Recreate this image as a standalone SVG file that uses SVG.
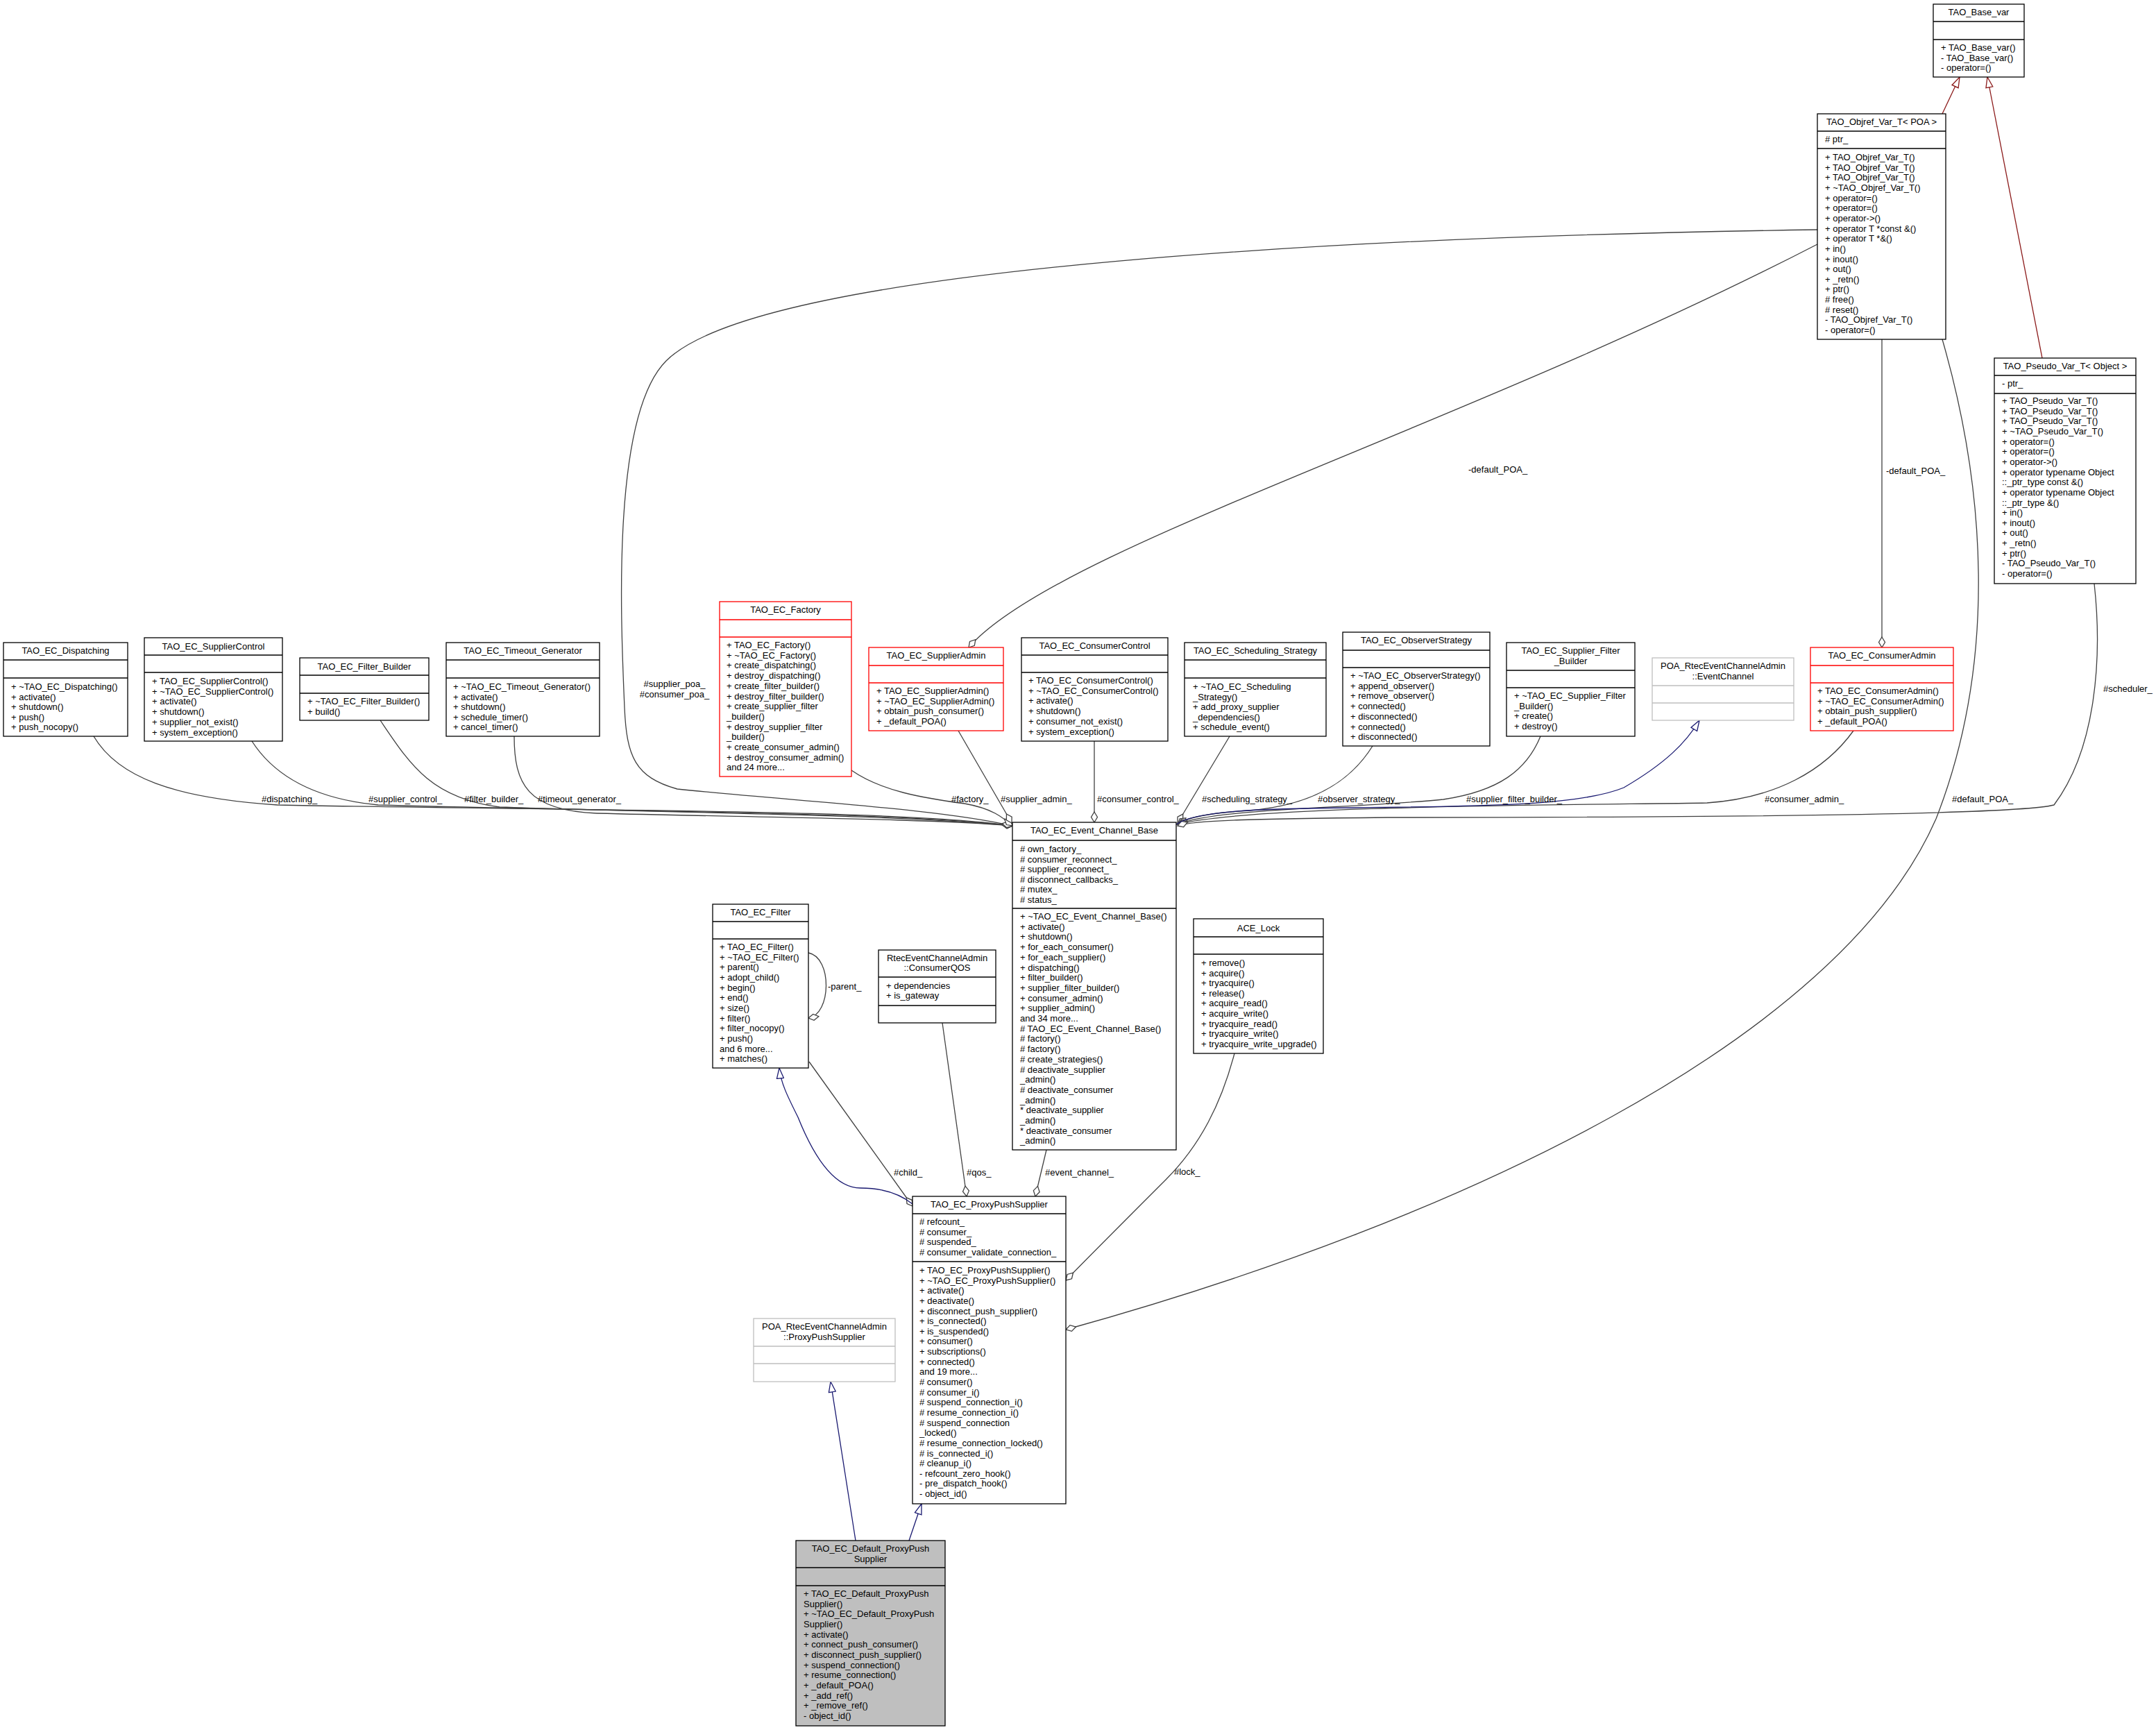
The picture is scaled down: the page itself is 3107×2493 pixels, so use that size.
<svg xmlns="http://www.w3.org/2000/svg" width="3107" height="2493" viewBox="0 0 3107 2493">
<style>
text{font-family:"Liberation Sans",Arial,Helvetica,sans-serif;font-size:13px;fill:#000}
.c{text-anchor:middle}
.b{fill:#fff;stroke:#000;stroke-width:1.3}
.r{fill:#fff;stroke:#f00;stroke-width:1.3}
.g{fill:#fff;stroke:#bfbfbf;stroke-width:1.3}
.d{fill:#bfbfbf;stroke:#000;stroke-width:1.3}
.sb{stroke:#000;stroke-width:1.3}
.sr{stroke:#f00;stroke-width:1.3}
.sg{stroke:#bfbfbf;stroke-width:1.3}
.e{fill:none;stroke:#404040;stroke-width:1.3;marker-end:url(#od)}
.i{fill:none;stroke:#191970;stroke-width:1.3;marker-end:url(#tn)}
.p{fill:none;stroke:#8b1a1a;stroke-width:1.3;marker-end:url(#tr)}
</style>
<defs>
<marker id="od" markerUnits="userSpaceOnUse" viewBox="0 0 18 12" markerWidth="18" markerHeight="12" refX="16" refY="6" orient="auto"><path d="M1,6 L8.5,1.5 L16,6 L8.5,10.5 Z" fill="#fff" stroke="#404040" stroke-width="1.3"/></marker>
<marker id="tn" markerUnits="userSpaceOnUse" viewBox="0 0 18 12" markerWidth="18" markerHeight="12" refX="16" refY="6" orient="auto"><path d="M1,1 L16,6 L1,11 Z" fill="#fff" stroke="#191970" stroke-width="1.3"/></marker>
<marker id="tr" markerUnits="userSpaceOnUse" viewBox="0 0 18 12" markerWidth="18" markerHeight="12" refX="16" refY="6" orient="auto"><path d="M1,1 L16,6 L1,11 Z" fill="#fff" stroke="#8b1a1a" stroke-width="1.3"/></marker>
</defs>
<rect width="3107" height="2493" fill="#fff"/>

<g id="connectors">
<path class="e" d="M135,1061 C170,1120 250,1150 400,1160 C800,1168 1300,1166 1459,1190"/>
<path class="e" d="M363,1068 C390,1110 440,1150 545,1160 C900,1170 1300,1170 1459,1190"/>
<path class="e" d="M548,1038 C590,1100 620,1150 720,1163 C1000,1172 1300,1174 1459,1190"/>
<path class="e" d="M741,1061 C741,1130 760,1168 860,1172 C1100,1178 1350,1180 1459,1190"/>
<path class="e" d="M2619,331 C2000,340 1100,380 960,520 C880,600 895,900 900,1020 C903,1090 915,1120 976,1137 C1150,1155 1350,1165 1459,1190"/>
<path class="e" d="M1227,1110 C1270,1140 1330,1150 1390,1158 C1430,1165 1445,1178 1459,1190"/>
<path class="e" d="M1381,1053 L1458,1186"/>
<path class="e" d="M1577,1068 L1577,1185"/>
<path class="e" d="M1772,1061 L1697,1186"/>
<path class="e" d="M1978,1075 C1950,1120 1900,1160 1800,1168 C1740,1172 1710,1178 1697,1188"/>
<path class="e" d="M2220,1061 C2200,1110 2160,1140 2080,1152 C1950,1165 1750,1165 1697,1188"/>
<path class="e" d="M2671,1053 C2630,1110 2560,1150 2460,1157 C2300,1160 1800,1160 1697,1188"/>
<path class="e" d="M3018,841 C3030,950 3020,1080 2960,1160 C2900,1175 2400,1178 2000,1178 C1800,1180 1720,1182 1697,1190"/>
<path class="e" d="M2619,352 C2100,620 1520,790 1396,933"/>
<path class="e" d="M2712,489 L2712,933"/>
<path class="e" d="M2799,489 C2860,700 2880,950 2790,1180 C2650,1500 2100,1760 1536,1916"/>
<path class="e" d="M1165,1373 C1200,1380 1198,1462 1165,1467"/>
<path class="e" d="M1166,1530 L1315,1738"/>
<path class="e" d="M1358,1474 L1393,1724"/>
<path class="e" d="M1508,1657 L1492,1724"/>
<path class="e" d="M1779,1518 C1760,1590 1730,1650 1680,1700 C1620,1760 1570,1810 1536,1845"/>
<path class="i" d="M1695,1188 C1720,1170 1800,1165 1950,1164 C2150,1162 2280,1160 2340,1135 C2400,1100 2430,1070 2449,1038"/>
<path class="i" d="M1315,1735 C1290,1715 1260,1712 1240,1712 C1200,1712 1170,1660 1150,1610 C1135,1580 1125,1560 1123,1539"/>
<path class="i" d="M1233,2220 L1197,1991"/>
<path class="i" d="M1310,2220 L1328,2167"/>
<path class="p" d="M2943,516 L2864,111"/>
<path class="p" d="M2799,164 L2824,111"/>
<text x="377" y="1156">#dispatching_</text>
<text x="531" y="1156">#supplier_control_</text>
<text x="669" y="1156">#filter_builder_</text>
<text x="775" y="1156">#timeout_generator_</text>
<text class="c" x="972" y="990">#supplier_poa_</text>
<text class="c" x="972" y="1005">#consumer_poa_</text>
<text x="1371" y="1156">#factory_</text>
<text x="1442" y="1156">#supplier_admin_</text>
<text x="1581" y="1156">#consumer_control_</text>
<text x="1732" y="1156">#scheduling_strategy_</text>
<text x="1899" y="1156">#observer_strategy_</text>
<text x="2113" y="1156">#supplier_filter_builder_</text>
<text x="2543" y="1156">#consumer_admin_</text>
<text x="2813" y="1156">#default_POA_</text>
<text x="3031" y="997">#scheduler_</text>
<text x="2116" y="681">-default_POA_</text>
<text x="2718" y="683">-default_POA_</text>
<text x="1193" y="1426">-parent_</text>
<text x="1288" y="1694">#child_</text>
<text x="1393" y="1694">#qos_</text>
<text x="1506" y="1694">#event_channel_</text>
<text x="1692" y="1693">#lock_</text>
</g>

<g id="TAO_Base_var">
<rect class="b" x="2786" y="6" width="131" height="105"/>
<path class="sb" d="M2786,31H2917M2786,57H2917"/>
<text class="c" x="2851.5" y="22">TAO_Base_var</text>
<text><tspan x="2797" y="73">+ TAO_Base_var()</tspan><tspan x="2797" y="87.6">- TAO_Base_var()</tspan><tspan x="2797" y="102.3">- operator=()</tspan></text>
</g>

<g id="TAO_Objref_Var_T">
<rect class="b" x="2619" y="164" width="185" height="325"/>
<path class="sb" d="M2619,189H2804M2619,214H2804"/>
<text class="c" x="2711.5" y="180">TAO_Objref_Var_T&lt; POA &gt;</text>
<text x="2630" y="205"># ptr_</text>
<text><tspan x="2630" y="231">+ TAO_Objref_Var_T()</tspan><tspan x="2630" y="245.65">+ TAO_Objref_Var_T()</tspan><tspan x="2630" y="260.3">+ TAO_Objref_Var_T()</tspan><tspan x="2630" y="274.95">+ ~TAO_Objref_Var_T()</tspan><tspan x="2630" y="289.6">+ operator=()</tspan><tspan x="2630" y="304.25">+ operator=()</tspan><tspan x="2630" y="318.9">+ operator-&gt;()</tspan><tspan x="2630" y="333.55">+ operator T *const &amp;()</tspan><tspan x="2630" y="348.2">+ operator T *&amp;()</tspan><tspan x="2630" y="362.85">+ in()</tspan><tspan x="2630" y="377.5">+ inout()</tspan><tspan x="2630" y="392.15">+ out()</tspan><tspan x="2630" y="406.8">+ _retn()</tspan><tspan x="2630" y="421.45">+ ptr()</tspan><tspan x="2630" y="436.1"># free()</tspan><tspan x="2630" y="450.75"># reset()</tspan><tspan x="2630" y="465.4">- TAO_Objref_Var_T()</tspan><tspan x="2630" y="480.05">- operator=()</tspan></text>
</g>

<g id="TAO_Pseudo_Var_T">
<rect class="b" x="2874" y="516" width="204" height="325"/>
<path class="sb" d="M2874,541H3078M2874,567H3078"/>
<text class="c" x="2976" y="532">TAO_Pseudo_Var_T&lt; Object &gt;</text>
<text x="2885" y="557">- ptr_</text>
<text><tspan x="2885" y="582">+ TAO_Pseudo_Var_T()</tspan><tspan x="2885" y="596.65">+ TAO_Pseudo_Var_T()</tspan><tspan x="2885" y="611.3">+ TAO_Pseudo_Var_T()</tspan><tspan x="2885" y="625.95">+ ~TAO_Pseudo_Var_T()</tspan><tspan x="2885" y="640.6">+ operator=()</tspan><tspan x="2885" y="655.25">+ operator=()</tspan><tspan x="2885" y="669.9">+ operator-&gt;()</tspan><tspan x="2885" y="684.55">+ operator typename Object</tspan><tspan x="2885" y="699.2">::_ptr_type const &amp;()</tspan><tspan x="2885" y="713.85">+ operator typename Object</tspan><tspan x="2885" y="728.5">::_ptr_type &amp;()</tspan><tspan x="2885" y="743.15">+ in()</tspan><tspan x="2885" y="757.8">+ inout()</tspan><tspan x="2885" y="772.45">+ out()</tspan><tspan x="2885" y="787.1">+ _retn()</tspan><tspan x="2885" y="801.75">+ ptr()</tspan><tspan x="2885" y="816.4">- TAO_Pseudo_Var_T()</tspan><tspan x="2885" y="831.05">- operator=()</tspan></text>
</g>

<g id="TAO_EC_ConsumerAdmin">
<rect class="r" x="2609" y="933" width="206" height="120"/>
<path class="sr" d="M2609,959H2815M2609,984H2815"/>
<text class="c" x="2712" y="949">TAO_EC_ConsumerAdmin</text>
<text><tspan x="2619" y="1000">+ TAO_EC_ConsumerAdmin()</tspan><tspan x="2619" y="1014.65">+ ~TAO_EC_ConsumerAdmin()</tspan><tspan x="2619" y="1029.3">+ obtain_push_supplier()</tspan><tspan x="2619" y="1043.95">+ _default_POA()</tspan></text>
</g>

<g id="TAO_EC_Dispatching">
<rect class="b" x="5" y="926" width="179" height="135"/>
<path class="sb" d="M5,951H184M5,977H184"/>
<text class="c" x="94.5" y="942">TAO_EC_Dispatching</text>
<text><tspan x="16" y="994">+ ~TAO_EC_Dispatching()</tspan><tspan x="16" y="1008.5">+ activate()</tspan><tspan x="16" y="1023">+ shutdown()</tspan><tspan x="16" y="1037.5">+ push()</tspan><tspan x="16" y="1052">+ push_nocopy()</tspan></text>
</g>

<g id="TAO_EC_SupplierControl">
<rect class="b" x="208" y="919" width="199" height="149"/>
<path class="sb" d="M208,944H407M208,969H407"/>
<text class="c" x="307.5" y="936">TAO_EC_SupplierControl</text>
<text><tspan x="219" y="986">+ TAO_EC_SupplierControl()</tspan><tspan x="219" y="1000.7">+ ~TAO_EC_SupplierControl()</tspan><tspan x="219" y="1015.4">+ activate()</tspan><tspan x="219" y="1030.1">+ shutdown()</tspan><tspan x="219" y="1044.8">+ supplier_not_exist()</tspan><tspan x="219" y="1059.5">+ system_exception()</tspan></text>
</g>

<g id="TAO_EC_Filter_Builder">
<rect class="b" x="432" y="948" width="186" height="90"/>
<path class="sb" d="M432,973H618M432,999H618"/>
<text class="c" x="525" y="965">TAO_EC_Filter_Builder</text>
<text><tspan x="443" y="1015">+ ~TAO_EC_Filter_Builder()</tspan><tspan x="443" y="1030">+ build()</tspan></text>
</g>

<g id="TAO_EC_Timeout_Generator">
<rect class="b" x="643" y="926" width="221" height="135"/>
<path class="sb" d="M643,951H864M643,977H864"/>
<text class="c" x="753.5" y="942">TAO_EC_Timeout_Generator</text>
<text><tspan x="653" y="994">+ ~TAO_EC_Timeout_Generator()</tspan><tspan x="653" y="1008.5">+ activate()</tspan><tspan x="653" y="1023">+ shutdown()</tspan><tspan x="653" y="1037.5">+ schedule_timer()</tspan><tspan x="653" y="1052">+ cancel_timer()</tspan></text>
</g>

<g id="TAO_EC_Factory">
<rect class="r" x="1037" y="867" width="190" height="252"/>
<path class="sr" d="M1037,893H1227M1037,918H1227"/>
<text class="c" x="1132" y="883">TAO_EC_Factory</text>
<text><tspan x="1047" y="934">+ TAO_EC_Factory()</tspan><tspan x="1047" y="948.7">+ ~TAO_EC_Factory()</tspan><tspan x="1047" y="963.4">+ create_dispatching()</tspan><tspan x="1047" y="978.1">+ destroy_dispatching()</tspan><tspan x="1047" y="992.8">+ create_filter_builder()</tspan><tspan x="1047" y="1007.5">+ destroy_filter_builder()</tspan><tspan x="1047" y="1022.2">+ create_supplier_filter</tspan><tspan x="1047" y="1036.9">_builder()</tspan><tspan x="1047" y="1051.6">+ destroy_supplier_filter</tspan><tspan x="1047" y="1066.3">_builder()</tspan><tspan x="1047" y="1081">+ create_consumer_admin()</tspan><tspan x="1047" y="1095.7">+ destroy_consumer_admin()</tspan><tspan x="1047" y="1110.4">and 24 more...</tspan></text>
</g>

<g id="TAO_EC_SupplierAdmin">
<rect class="r" x="1252" y="933" width="194" height="120"/>
<path class="sr" d="M1252,959H1446M1252,984H1446"/>
<text class="c" x="1349" y="949">TAO_EC_SupplierAdmin</text>
<text><tspan x="1263" y="1000">+ TAO_EC_SupplierAdmin()</tspan><tspan x="1263" y="1014.65">+ ~TAO_EC_SupplierAdmin()</tspan><tspan x="1263" y="1029.3">+ obtain_push_consumer()</tspan><tspan x="1263" y="1043.95">+ _default_POA()</tspan></text>
</g>

<g id="TAO_EC_ConsumerControl">
<rect class="b" x="1472" y="919" width="211" height="149"/>
<path class="sb" d="M1472,944H1683M1472,969H1683"/>
<text class="c" x="1577.5" y="935">TAO_EC_ConsumerControl</text>
<text><tspan x="1482" y="985">+ TAO_EC_ConsumerControl()</tspan><tspan x="1482" y="999.7">+ ~TAO_EC_ConsumerControl()</tspan><tspan x="1482" y="1014.4">+ activate()</tspan><tspan x="1482" y="1029.1">+ shutdown()</tspan><tspan x="1482" y="1043.8">+ consumer_not_exist()</tspan><tspan x="1482" y="1058.5">+ system_exception()</tspan></text>
</g>

<g id="TAO_EC_Scheduling_Strategy">
<rect class="b" x="1707" y="926" width="204" height="135"/>
<path class="sb" d="M1707,951H1911M1707,977H1911"/>
<text class="c" x="1809" y="942">TAO_EC_Scheduling_Strategy</text>
<text><tspan x="1719" y="994">+ ~TAO_EC_Scheduling</tspan><tspan x="1719" y="1008.5">_Strategy()</tspan><tspan x="1719" y="1023">+ add_proxy_supplier</tspan><tspan x="1719" y="1037.5">_dependencies()</tspan><tspan x="1719" y="1052">+ schedule_event()</tspan></text>
</g>

<g id="TAO_EC_ObserverStrategy">
<rect class="b" x="1935" y="911" width="212" height="164"/>
<path class="sb" d="M1935,937H2147M1935,962H2147"/>
<text class="c" x="2041" y="927">TAO_EC_ObserverStrategy</text>
<text><tspan x="1946" y="978">+ ~TAO_EC_ObserverStrategy()</tspan><tspan x="1946" y="992.7">+ append_observer()</tspan><tspan x="1946" y="1007.4">+ remove_observer()</tspan><tspan x="1946" y="1022.1">+ connected()</tspan><tspan x="1946" y="1036.8">+ disconnected()</tspan><tspan x="1946" y="1051.5">+ connected()</tspan><tspan x="1946" y="1066.2">+ disconnected()</tspan></text>
</g>

<g id="TAO_EC_Supplier_Filter_Builder">
<rect class="b" x="2171" y="926" width="185" height="135"/>
<path class="sb" d="M2171,966H2356M2171,991H2356"/>
<text class="c"><tspan x="2263.5" y="942">TAO_EC_Supplier_Filter</tspan><tspan x="2263.5" y="957">_Builder</tspan></text>
<text><tspan x="2182" y="1007">+ ~TAO_EC_Supplier_Filter</tspan><tspan x="2182" y="1021.7">_Builder()</tspan><tspan x="2182" y="1036.4">+ create()</tspan><tspan x="2182" y="1051.1">+ destroy()</tspan></text>
</g>

<g id="POA_RtecEventChannelAdmin_EventChannel">
<rect class="g" x="2381" y="948" width="204" height="90"/>
<path class="sg" d="M2381,988H2585M2381,1013H2585"/>
<text class="c"><tspan x="2483" y="964">POA_RtecEventChannelAdmin</tspan><tspan x="2483" y="979">::EventChannel</tspan></text>
</g>

<g id="TAO_EC_Event_Channel_Base">
<rect class="b" x="1459" y="1185" width="236" height="472"/>
<path class="sb" d="M1459,1211H1695M1459,1309H1695"/>
<text class="c" x="1577" y="1201">TAO_EC_Event_Channel_Base</text>
<text><tspan x="1470" y="1228"># own_factory_</tspan><tspan x="1470" y="1242.6"># consumer_reconnect_</tspan><tspan x="1470" y="1257.2"># supplier_reconnect_</tspan><tspan x="1470" y="1271.8"># disconnect_callbacks_</tspan><tspan x="1470" y="1286.4"># mutex_</tspan><tspan x="1470" y="1301"># status_</tspan></text>
<text><tspan x="1470" y="1325">+ ~TAO_EC_Event_Channel_Base()</tspan><tspan x="1470" y="1339.7">+ activate()</tspan><tspan x="1470" y="1354.4">+ shutdown()</tspan><tspan x="1470" y="1369.1">+ for_each_consumer()</tspan><tspan x="1470" y="1383.8">+ for_each_supplier()</tspan><tspan x="1470" y="1398.5">+ dispatching()</tspan><tspan x="1470" y="1413.2">+ filter_builder()</tspan><tspan x="1470" y="1427.9">+ supplier_filter_builder()</tspan><tspan x="1470" y="1442.6">+ consumer_admin()</tspan><tspan x="1470" y="1457.3">+ supplier_admin()</tspan><tspan x="1470" y="1472">and 34 more...</tspan><tspan x="1470" y="1486.7"># TAO_EC_Event_Channel_Base()</tspan><tspan x="1470" y="1501.4"># factory()</tspan><tspan x="1470" y="1516.1"># factory()</tspan><tspan x="1470" y="1530.8"># create_strategies()</tspan><tspan x="1470" y="1545.5"># deactivate_supplier</tspan><tspan x="1470" y="1560.2">_admin()</tspan><tspan x="1470" y="1574.9"># deactivate_consumer</tspan><tspan x="1470" y="1589.6">_admin()</tspan><tspan x="1470" y="1604.3">* deactivate_supplier</tspan><tspan x="1470" y="1619">_admin()</tspan><tspan x="1470" y="1633.7">* deactivate_consumer</tspan><tspan x="1470" y="1648.4">_admin()</tspan></text>
</g>

<g id="TAO_EC_Filter">
<rect class="b" x="1027" y="1303" width="138" height="236"/>
<path class="sb" d="M1027,1328H1165M1027,1353H1165"/>
<text class="c" x="1096" y="1319">TAO_EC_Filter</text>
<text><tspan x="1037" y="1369">+ TAO_EC_Filter()</tspan><tspan x="1037" y="1383.65">+ ~TAO_EC_Filter()</tspan><tspan x="1037" y="1398.3">+ parent()</tspan><tspan x="1037" y="1412.95">+ adopt_child()</tspan><tspan x="1037" y="1427.6">+ begin()</tspan><tspan x="1037" y="1442.25">+ end()</tspan><tspan x="1037" y="1456.9">+ size()</tspan><tspan x="1037" y="1471.55">+ filter()</tspan><tspan x="1037" y="1486.2">+ filter_nocopy()</tspan><tspan x="1037" y="1500.85">+ push()</tspan><tspan x="1037" y="1515.5">and 6 more...</tspan><tspan x="1037" y="1530.15">+ matches()</tspan></text>
</g>

<g id="RtecEventChannelAdmin_ConsumerQOS">
<rect class="b" x="1266" y="1369" width="169" height="105"/>
<path class="sb" d="M1266,1408H1435M1266,1449H1435"/>
<text class="c"><tspan x="1350.5" y="1385">RtecEventChannelAdmin</tspan><tspan x="1350.5" y="1399">::ConsumerQOS</tspan></text>
<text><tspan x="1277" y="1425">+ dependencies</tspan><tspan x="1277" y="1439">+ is_gateway</tspan></text>
</g>

<g id="ACE_Lock">
<rect class="b" x="1720" y="1324" width="187" height="194"/>
<path class="sb" d="M1720,1350H1907M1720,1375H1907"/>
<text class="c" x="1813.5" y="1342">ACE_Lock</text>
<text><tspan x="1731" y="1392">+ remove()</tspan><tspan x="1731" y="1406.6">+ acquire()</tspan><tspan x="1731" y="1421.2">+ tryacquire()</tspan><tspan x="1731" y="1435.8">+ release()</tspan><tspan x="1731" y="1450.4">+ acquire_read()</tspan><tspan x="1731" y="1465">+ acquire_write()</tspan><tspan x="1731" y="1479.6">+ tryacquire_read()</tspan><tspan x="1731" y="1494.2">+ tryacquire_write()</tspan><tspan x="1731" y="1508.8">+ tryacquire_write_upgrade()</tspan></text>
</g>

<g id="TAO_EC_ProxyPushSupplier">
<rect class="b" x="1315" y="1724" width="221" height="443"/>
<path class="sb" d="M1315,1749H1536M1315,1818H1536"/>
<text class="c" x="1425.5" y="1740">TAO_EC_ProxyPushSupplier</text>
<text><tspan x="1325" y="1765"># refcount_</tspan><tspan x="1325" y="1779.65"># consumer_</tspan><tspan x="1325" y="1794.3"># suspended_</tspan><tspan x="1325" y="1808.95"># consumer_validate_connection_</tspan></text>
<text><tspan x="1325" y="1835">+ TAO_EC_ProxyPushSupplier()</tspan><tspan x="1325" y="1849.64">+ ~TAO_EC_ProxyPushSupplier()</tspan><tspan x="1325" y="1864.28">+ activate()</tspan><tspan x="1325" y="1878.92">+ deactivate()</tspan><tspan x="1325" y="1893.56">+ disconnect_push_supplier()</tspan><tspan x="1325" y="1908.2">+ is_connected()</tspan><tspan x="1325" y="1922.84">+ is_suspended()</tspan><tspan x="1325" y="1937.48">+ consumer()</tspan><tspan x="1325" y="1952.12">+ subscriptions()</tspan><tspan x="1325" y="1966.76">+ connected()</tspan><tspan x="1325" y="1981.4">and 19 more...</tspan><tspan x="1325" y="1996.04"># consumer()</tspan><tspan x="1325" y="2010.68"># consumer_i()</tspan><tspan x="1325" y="2025.32"># suspend_connection_i()</tspan><tspan x="1325" y="2039.96"># resume_connection_i()</tspan><tspan x="1325" y="2054.6"># suspend_connection</tspan><tspan x="1325" y="2069.24">_locked()</tspan><tspan x="1325" y="2083.88"># resume_connection_locked()</tspan><tspan x="1325" y="2098.52"># is_connected_i()</tspan><tspan x="1325" y="2113.16"># cleanup_i()</tspan><tspan x="1325" y="2127.8">- refcount_zero_hook()</tspan><tspan x="1325" y="2142.44">- pre_dispatch_hook()</tspan><tspan x="1325" y="2157.08">- object_id()</tspan></text>
</g>

<g id="POA_RtecEventChannelAdmin_ProxyPushSupplier">
<rect class="g" x="1086" y="1900" width="204" height="91"/>
<path class="sg" d="M1086,1940H1290M1086,1965H1290"/>
<text class="c"><tspan x="1188" y="1916">POA_RtecEventChannelAdmin</tspan><tspan x="1188" y="1931">::ProxyPushSupplier</tspan></text>
</g>

<g id="TAO_EC_Default_ProxyPushSupplier">
<rect class="d" x="1147" y="2220" width="215" height="267"/>
<path class="sb" d="M1147,2259H1362M1147,2285H1362"/>
<text class="c"><tspan x="1254.5" y="2236">TAO_EC_Default_ProxyPush</tspan><tspan x="1254.5" y="2251">Supplier</tspan></text>
<text><tspan x="1158" y="2301">+ TAO_EC_Default_ProxyPush</tspan><tspan x="1158" y="2315.67">Supplier()</tspan><tspan x="1158" y="2330.34">+ ~TAO_EC_Default_ProxyPush</tspan><tspan x="1158" y="2345.01">Supplier()</tspan><tspan x="1158" y="2359.68">+ activate()</tspan><tspan x="1158" y="2374.35">+ connect_push_consumer()</tspan><tspan x="1158" y="2389.02">+ disconnect_push_supplier()</tspan><tspan x="1158" y="2403.69">+ suspend_connection()</tspan><tspan x="1158" y="2418.36">+ resume_connection()</tspan><tspan x="1158" y="2433.03">+ _default_POA()</tspan><tspan x="1158" y="2447.7">+ _add_ref()</tspan><tspan x="1158" y="2462.37">+ _remove_ref()</tspan><tspan x="1158" y="2477.04">- object_id()</tspan></text>
</g>
</svg>
